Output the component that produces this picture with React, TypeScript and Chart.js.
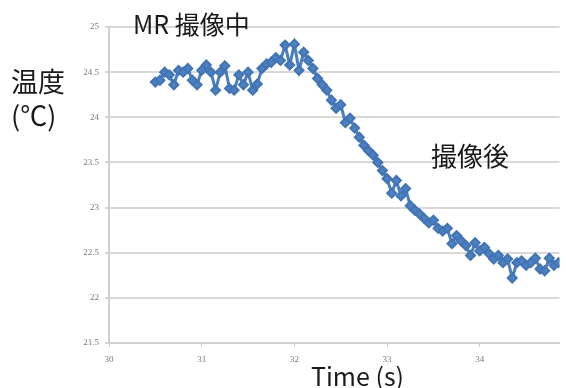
import React, { useEffect, useRef } from "react";
import { Chart, registerables } from "chart.js";

Chart.register(...registerables);

const times: number[] = [
  30.5, 30.55, 30.6, 30.65, 30.7, 30.75, 30.8, 30.85, 30.9, 30.95,
  31.0, 31.05, 31.1, 31.15, 31.2, 31.25, 31.3, 31.35, 31.4, 31.45,
  31.5, 31.55, 31.6, 31.65, 31.7, 31.75, 31.8, 31.85, 31.9, 31.95,
  32.0, 32.05, 32.1, 32.15, 32.2, 32.25, 32.3, 32.35, 32.4, 32.45,
  32.5, 32.55, 32.6, 32.65, 32.7, 32.75, 32.8, 32.85, 32.9, 32.95,
  33.0, 33.05, 33.1, 33.15, 33.2, 33.25, 33.3, 33.35, 33.4, 33.45,
  33.5, 33.55, 33.6, 33.65, 33.7, 33.75, 33.8, 33.85, 33.9, 33.95,
  34.0, 34.05, 34.1, 34.15, 34.2, 34.25, 34.3, 34.35, 34.4, 34.45,
  34.5, 34.55, 34.6, 34.65, 34.7, 34.75, 34.8, 34.85,
];

const temps: number[] = [
  24.39, 24.41, 24.5, 24.47, 24.36, 24.52, 24.5, 24.54, 24.41, 24.36,
  24.52, 24.58, 24.5, 24.3, 24.5, 24.57, 24.32, 24.3, 24.47, 24.36,
  24.5, 24.3, 24.37, 24.54, 24.59, 24.61, 24.66, 24.63, 24.8, 24.58,
  24.81, 24.52, 24.72, 24.63, 24.54, 24.43, 24.36, 24.3, 24.19, 24.1,
  24.14, 23.94, 23.99, 23.88, 23.78, 23.69, 23.63, 23.58, 23.5, 23.41,
  23.32, 23.16, 23.3, 23.13, 23.21, 23.02, 22.97, 22.93, 22.88, 22.83,
  22.86, 22.77, 22.74, 22.77, 22.6, 22.69, 22.63, 22.58, 22.47, 22.61,
  22.52, 22.56, 22.49, 22.43, 22.47, 22.39, 22.43, 22.22, 22.39, 22.41,
  22.36, 22.39, 22.44, 22.32, 22.3, 22.44, 22.36, 22.39,
];

const xTicks: number[] = [30, 31, 32, 33, 34];
const yMin = 21.5;
const yMax = 25;
const xMin = 30;
const xMax = 34.86;

const annotations: { text: string; x: number; y: number; size: number }[] = [
  { text: "MR 撮像中", x: 133, y: 24, size: 25 },
  { text: "撮像後", x: 431, y: 156, size: 26 },
  { text: "温度", x: 11, y: 82, size: 27 },
  { text: "(℃)", x: 11, y: 116, size: 27 },
  { text: "Time (s)", x: 311, y: 376, size: 25 },
];

const textPlugin = {
  id: "textLabels",
  afterDraw(chart: any) {
    const ctx = chart.ctx;
    ctx.save();
    ctx.fillStyle = "#1a1a1a";
    ctx.textBaseline = "middle";
    ctx.textAlign = "left";
    for (const a of annotations) {
      ctx.font = `${a.size}px "Noto Sans CJK JP", "Noto Sans", sans-serif`;
      ctx.fillText(a.text, a.x, a.y);
    }
    ctx.restore();
  },
};

export default function App() {
  const ref = useRef<HTMLCanvasElement | null>(null);

  useEffect(() => {
    if (!ref.current) return;
    const chart = new Chart(ref.current, {
      type: "line",
      data: {
        datasets: [
          {
            data: times.map((t, i) => ({ x: t, y: temps[i] })),
            borderColor: "#4a7ebf",
            backgroundColor: "#4a7ebf",
            borderWidth: 3,
            pointStyle: "rectRot",
            pointRadius: 4.5,
            pointBorderWidth: 2,
            pointBackgroundColor: "#4d80c0",
            pointBorderColor: "#4274b4",
            tension: 0,
          },
        ],
      },
      options: {
        animation: false,
        responsive: false,
        devicePixelRatio: 1,
        layout: { padding: { top: 27, left: 0, right: 0, bottom: 0 } },
        plugins: { legend: { display: false }, tooltip: { enabled: false } },
        scales: {
          x: {
            type: "linear",
            min: xMin,
            max: xMax,
            afterBuildTicks(scale: any) {
              scale.ticks = xTicks.map((v) => ({ value: v }));
            },
            afterFit(scale: any) {
              scale.height = 45;
            },
            grid: {
              drawOnChartArea: false,
              drawTicks: true,
              tickLength: 4,
              color: "#d0d0d0",
              lineWidth: 1,
            },
            border: { color: "#d0d0d0", width: 2 },
            ticks: {
              color: "#7a7a7a",
              font: { family: '"Liberation Serif", serif', size: 9 },
              padding: 7,
              maxRotation: 0,
              autoSkip: false,
              callback: (v: any) => String(v),
            },
          },
          y: {
            type: "linear",
            min: yMin,
            max: yMax,
            afterFit(scale: any) {
              scale.width = 109;
            },
            grid: {
              drawTicks: true,
              tickLength: 4,
              color: "#d9d9d9",
              lineWidth: 2,
            },
            border: { color: "#d0d0d0", width: 2 },
            ticks: {
              stepSize: 0.5,
              color: "#7a7a7a",
              font: { family: '"Liberation Serif", serif', size: 9 },
              padding: 6,
              callback: (v: any) => String(Number(v)),
            },
          },
        },
      },
      plugins: [textPlugin],
    });
    return () => chart.destroy();
  }, []);

  return (
    <div style={{ position: "fixed", left: 0, top: 0, width: 566, height: 388, background: "#fff" }}>
      <canvas ref={ref} width={566} height={388} style={{ display: "block" }} />
    </div>
  );
}
